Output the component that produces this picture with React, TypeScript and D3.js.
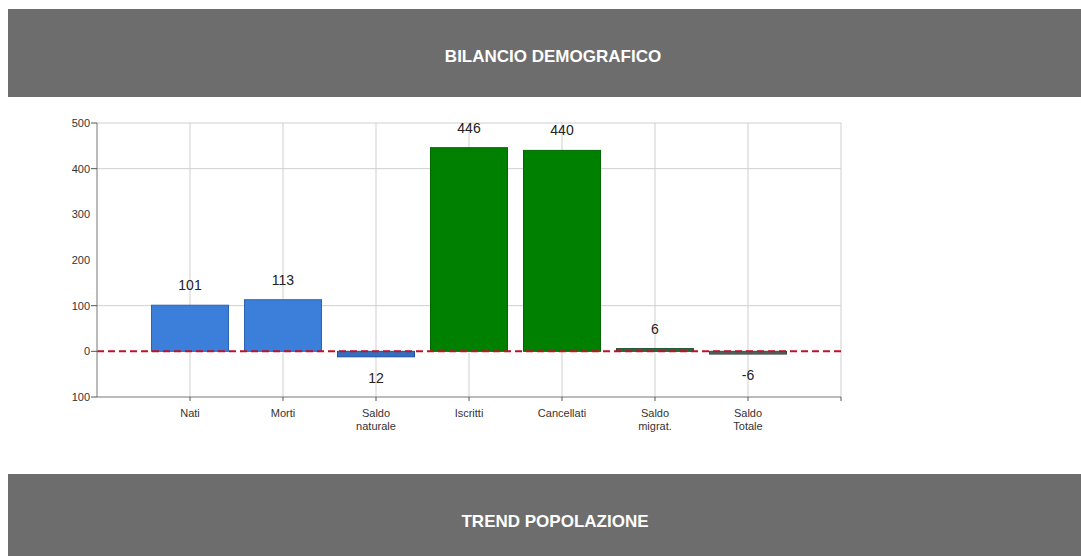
import React from "react";
import * as d3 from "d3";

const categories = ["Nati", "Morti", "Saldo\nnaturale", "Iscritti", "Cancellati", "Saldo\nmigrat.", "Saldo\nTotale"];
const values = [101, 113, -12, 446, 440, 6, -6];
const valueLabels = ["101", "113", "12", "446", "440", "6", "-6"];
const barColors = ["#3b7fdb", "#3b7fdb", "#2f6fc4", "#008000", "#008000", "#2d6a3c", "#4a6660"];
const barStrokes = ["#2c64b0", "#2c64b0", "#234f96", "#006a00", "#006a00", "#1f4f2c", "#35504a"];
const yTickValues = [500, 400, 300, 200, 100, 0, -100];
const yTickLabels = ["500", "400", "300", "200", "100", "0", "100"];
const yGridValues = [500, 400, 100];
const title1 = "BILANCIO DEMOGRAFICO";
const title2 = "TREND POPOLAZIONE";

const W = 1081;
const H = 556;
const FONT = "'Liberation Sans', Arial, sans-serif";

export default function App() {
  const x0 = 97, x1 = 841;
  const y = d3.scaleLinear().domain([-100, 500]).range([397, 123]);
  const x = d3.scaleLinear().domain([0, categories.length + 1]).range([x0, x1]);
  const xTicks = d3.range(0, categories.length + 2);
  const barW = 77;

  return (
    <div style={{ position: "absolute", left: 0, top: 0, width: W, height: H, background: "#fff" }}>
      <svg width={W} height={H} style={{ display: "block" }}>
        <rect x={8} y={9} width={W - 8} height={88} fill="#6d6d6d" />
        <text x={553} y={62} textAnchor="middle" fill="#fff" fontFamily={FONT} fontSize={17} fontWeight="bold">{title1}</text>
        <rect x={8} y={474} width={W - 8} height={82} fill="#6d6d6d" />
        <text x={555} y={527} textAnchor="middle" fill="#fff" fontFamily={FONT} fontSize={17} fontWeight="bold">{title2}</text>

        {xTicks.slice(1).map((t) => (
          <line key={"vg" + t} x1={x(t)} x2={x(t)} y1={y(500)} y2={y(-100)} stroke="#cfcfcf" strokeWidth={1} />
        ))}
        {yGridValues.map((v) => (
          <line key={"hg" + v} x1={x0} x2={x1} y1={y(v)} y2={y(v)} stroke="#cfcfcf" strokeWidth={1} />
        ))}

        {values.map((v, i) => {
          const cx = x(i + 1);
          const top = y(Math.max(0, v));
          const bot = y(Math.min(0, v));
          return (
            <rect key={"b" + i} x={cx - barW / 2} y={top} width={barW} height={Math.max(1, bot - top)}
              fill={barColors[i]} stroke={barStrokes[i]} strokeWidth={1} />
          );
        })}

        <line x1={x0} x2={x1} y1={y(0)} y2={y(0)} stroke="#c0102a" strokeWidth={2} strokeDasharray="7,4" />

        {values.map((v, i) => {
          const cx = x(i + 1);
          const ly = v >= 0 ? y(v) - 15 : y(v) + 26;
          return (
            <text key={"vl" + i} x={cx} y={ly} textAnchor="middle" fontFamily={FONT} fontSize={14} fill="#222">{valueLabels[i]}</text>
          );
        })}

        <line x1={x0} x2={x0} y1={y(500)} y2={y(-100)} stroke="#777" strokeWidth={1} />
        <line x1={x0} x2={x1} y1={y(-100)} y2={y(-100)} stroke="#777" strokeWidth={1} />
        {xTicks.slice(1).map((t) => (
          <line key={"xt" + t} x1={x(t)} x2={x(t)} y1={y(-100)} y2={y(-100) + 4} stroke="#555" strokeWidth={1} />
        ))}
        {[500, 400, 100, 0, -100].map((v) => (
          <line key={"yt" + v} x1={x0 - 6} x2={x0} y1={y(v)} y2={y(v)} stroke="#555" strokeWidth={1} />
        ))}
        {yTickValues.map((v, i) => (
          <text key={"yl" + v} x={x0 - 7} y={y(v) + 4} textAnchor="end" fontFamily={FONT} fontSize={11} fill="#333">{yTickLabels[i]}</text>
        ))}
        {categories.map((c, i) => (
          <text key={"xl" + i} x={x(i + 1)} y={417} textAnchor="middle" fontFamily={FONT} fontSize={11} fill="#333">
            {c.split("\n").map((line, j) => (
              <tspan key={j} x={x(i + 1)} dy={j === 0 ? 0 : 13}>{line}</tspan>
            ))}
          </text>
        ))}
      </svg>
    </div>
  );
}
